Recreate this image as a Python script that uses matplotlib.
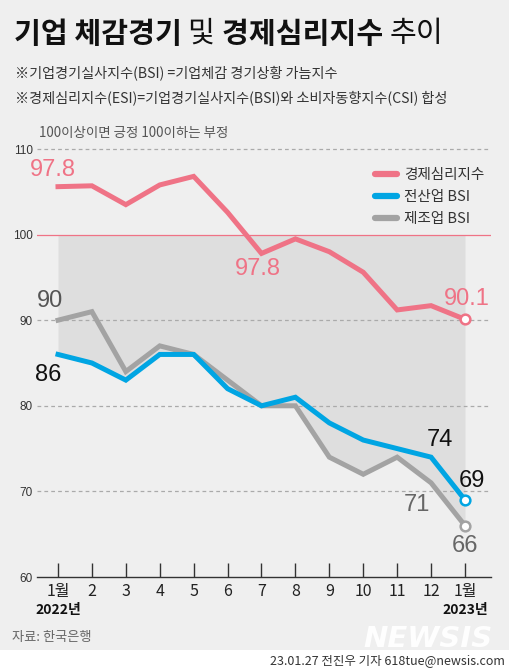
import matplotlib
matplotlib.use("Agg")
import matplotlib.pyplot as plt
import numpy as np

plt.rcParams['font.family'] = ['Noto Sans CJK KR', 'DejaVu Sans']

# data
months = ['1월', '2', '3', '4', '5', '6', '7', '8', '9', '10', '11', '12', '1월']
years = ['2022년', '2023년']
esi = [105.6, 105.7, 103.5, 105.8, 106.8, 102.6, 97.8, 99.5, 98.0, 95.6, 91.2, 91.7, 90.1]
bsi_all = [86, 85, 83, 86, 86, 82, 80, 81, 78, 76, 75, 74, 69]
bsi_mfg = [90, 91, 84, 87, 86, 83, 80, 80, 74, 72, 74, 71, 66]
series_names = ['경제심리지수', '전산업 BSI', '제조업 BSI']
yticks = [60, 70, 80, 90, 100, 110]

# value labels: (index, text, offset in points)
esi_labels = [(0, '97.8', (-3.6, 12)), (6, '97.8', (-2.9, -11.5)), (12, '90.1', (1.4, 15))]
all_labels = [(0, '86', (-7.2, -15)), (11, '74', (6.5, 12.2)), (12, '69', (5, 13.7))]
mfg_labels = [(0, '90', (-5.8, 13.7)), (11, '71', (-10, -16)), (12, '66', (0, -15))]

PINK = '#ef7386'
BLUE = '#00a5e3'
GREY = '#a3a3a3'
BG = '#efefef'

W, H = 510, 671
fig = plt.figure(figsize=(W / 100, H / 100), dpi=100)
fig.patch.set_facecolor(BG)


def px(x, y):
    return x / W, 1 - y / H


# footer band
fig.patches.append(plt.Rectangle((0, 0), 1, 21 / H, transform=fig.transFigure,
                                 facecolor='white', edgecolor='none', zorder=0))

# title with mixed weights
title_parts = [('기업 체감경기 ', 'bold'), ('및 ', 'normal'), ('경제심리지수 ', 'bold'), ('추이', 'normal')]
renderer = fig.canvas.get_renderer()
xx = 14
for txt, wt in title_parts:
    t = fig.text(*px(xx, 34), txt, fontsize=21, fontweight=wt, color='#111',
                 va='center', ha='left')
    bb = t.get_window_extent(renderer)
    xx += bb.width

fig.text(*px(15, 73), '※기업경기실사지수(BSI) =기업체감 경기상황 가늠지수', fontsize=10.2,
         color='#333', va='center')
fig.text(*px(15, 98), '※경제심리지수(ESI)=기업경기실사지수(BSI)와 소비자동향지수(CSI) 합성', fontsize=10.2,
         color='#333', va='center')

left, right, top, bottom = 37, 491, 145, 577
ax = fig.add_axes([left / W, 1 - bottom / H, (right - left) / W, (bottom - top) / H])
ax.set_facecolor('none')
x = np.arange(len(months))
ppu_x = (465 - 58) / 12
ax.set_xlim(-(58 - left) / ppu_x, 12 + (right - 465) / ppu_x)
ppu_y = (577 - 149) / 50
ax.set_ylim(60, 60 + (bottom - top) / ppu_y)

for v in [70, 80, 90, 110]:
    ax.axhline(v, color='#aaaaaa', lw=0.9, ls=(0, (3, 2.5)), zorder=1)
ax.axhline(100, color=PINK, lw=0.9, zorder=2)

lower = np.minimum(bsi_all, bsi_mfg)
ax.fill_between(x, lower, 100, color='#dedede', lw=0, zorder=0.5)

ax.plot(x, esi, color=PINK, lw=3.6, solid_joinstyle='miter', zorder=4, label=series_names[0])
ax.plot(x, bsi_mfg, color=GREY, lw=3.6, solid_joinstyle='miter', zorder=3, label=series_names[2])
ax.plot(x, bsi_all, color=BLUE, lw=3.6, solid_joinstyle='miter', zorder=4, label=series_names[1])

for ys, c in [(esi, PINK), (bsi_all, BLUE), (bsi_mfg, GREY)]:
    ax.plot(x[-1], ys[-1], 'o', ms=7, mfc='white', mec=c, mew=1.8, zorder=6)

numfont = ['Liberation Sans', 'Noto Sans CJK KR']
for ys, labels, c in [(esi, esi_labels, PINK), (bsi_all, all_labels, '#111'),
                      (bsi_mfg, mfg_labels, '#666')]:
    for i, txt, off in labels:
        if ys is bsi_mfg and i == 0:
            c2 = '#555'
        else:
            c2 = c
        ax.annotate(txt, (x[i], ys[i]), xytext=off, textcoords='offset points',
                    ha='center', va='center', fontsize=17, color=c2, family=numfont, zorder=7)

handles, labs = ax.get_legend_handles_labels()
order = [0, 2, 1]
leg = ax.legend([handles[i] for i in order], [labs[i] for i in order],
                loc='upper left', bbox_to_anchor=px(362, 155), bbox_transform=fig.transFigure,
                frameon=False, fontsize=10.5, handlelength=1.5, handletextpad=0.5,
                labelspacing=0.55, labelcolor='#333')
for ln in leg.get_lines():
    ln.set_linewidth(4.5)
    ln.set_solid_capstyle('round')

for s in ['top', 'right', 'left']:
    ax.spines[s].set_visible(False)
ax.spines['bottom'].set_color('#333')
ax.spines['bottom'].set_linewidth(1)

ax.set_xticks(x)
ax.set_xticklabels(months, fontsize=11.5, color='#222')
ax.tick_params(axis='x', direction='in', length=10, width=1, color='#333', pad=4)
ax.set_yticks(yticks)
ax.set_yticklabels([str(v) for v in yticks], fontsize=8.5, color='#333', family=numfont)
ax.tick_params(axis='y', length=0, pad=3)

for i, yr in [(0, years[0]), (12, years[1])]:
    ax.annotate(yr, (x[i], 60), xytext=(0, -24), textcoords='offset points', ha='center',
                va='center', fontsize=10, color='#111', fontweight='bold')

fig.text(*px(39, 133), '100이상이면 긍정 100이하는 부정', fontsize=9.7, color='#555', va='center')
fig.text(*px(12, 637), '자료: 한국은행', fontsize=9.5, color='#666', va='center')
fig.text(*px(428, 639), 'NEWSIS', fontsize=21, color='white', fontweight='bold', style='italic',
         family='DejaVu Sans', ha='center', va='center', alpha=0.95)
fig.text(*px(505, 661), '23.01.27 전진우 기자 618tue@newsis.com', fontsize=9, color='#333',
         ha='right', va='center')

fig.savefig('out.png', dpi=100, facecolor=fig.get_facecolor())
